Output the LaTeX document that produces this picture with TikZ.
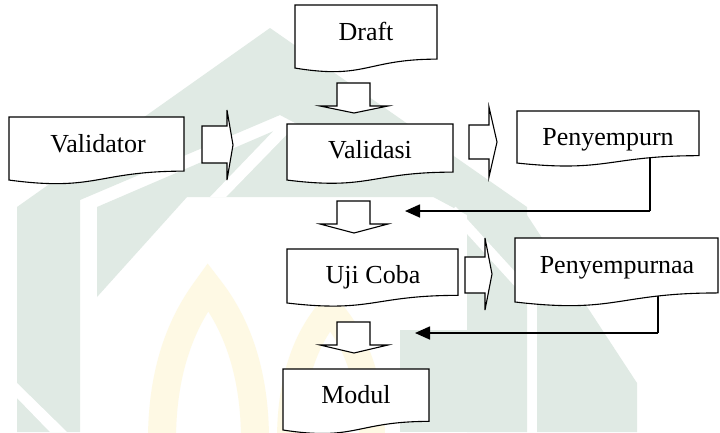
\documentclass[tikz,border=0pt]{standalone}
\usepackage{fontspec}
\setmainfont{Liberation Serif}
\usetikzlibrary{calc,arrows.meta}
\definecolor{wmgreen}{RGB}{224,234,228}
\definecolor{wmyellow}{RGB}{254,249,228}
\tikzset{
  frame/.style={rectangle, draw=none, inner sep=0pt, outer sep=0pt},
  docline/.style={draw=black, line width=1.1pt, fill=white, line join=miter},
  lbl/.style={font=\fontsize{26}{30}\selectfont, inner sep=0pt, anchor=base},
  blockarrow/.style={draw=black, line width=1.1pt, fill=white, line join=miter},
  fbstem/.style={draw=black, line width=1.2pt},
  fbline/.style={draw=black, line width=1.7pt, -{Triangle[length=15pt,width=13pt]}},
}
\newcommand{\docpath}[1]{%
  \path[docline] (#1.north west) -- (#1.north east)
    -- ($(#1.north east)!0.802!(#1.south east)$)
    .. controls ($(#1.north)!0.802!(#1.south)$) and ($(#1.north)!1.108!(#1.south)$)
    .. ($(#1.north west)!0.934!(#1.south west)$) -- cycle;}
\newcommand{\blockdown}[3]{%
  \path[blockarrow] (337,#1) -- (370,#1) -- (370,#2) -- (388,#2) -- (354,#3)
    -- (320,#2) -- (337,#2) -- cycle;}
\newcommand{\blockright}[7]{%
  \path[blockarrow] (#1,#4) -- (#2,#4) -- (#2,#6) -- (#3,{(#6+#7)/2})
    -- (#2,#7) -- (#2,#5) -- (#1,#5) -- cycle;}
\begin{document}
\begin{tikzpicture}[x=1pt,y=-1pt]
\useasboundingbox (0,0) rectangle (720,432);
\fill[white] (0,0) rectangle (720,432);
% --- watermark (faint logo in the background)
\fill[wmgreen] (17,432) -- (17,207) -- (270,28) -- (527,207) -- (527,432)
  -- (467,432) -- (467,215) -- (280,115) -- (80,200) -- (80,432) -- cycle;
\fill[wmgreen] (97,297) -- (97,207) -- (283,127) -- (457,197) -- (187,197) -- cycle;
\fill[white] (210,197) -- (226,197) -- (297,124) -- (285,119) -- cycle;
\fill[wmgreen] (527,215) -- (637,383) -- (637,432) -- (537,432) -- (537,300) -- (527,290) -- cycle;
\fill[wmgreen] (400,330) -- (467,330) -- (467,432) -- (400,432) -- cycle;
\draw[white, line width=10pt] (452,210) -- (534,300);
\fill[white] (17,383) -- (17,398) -- (50,432) -- (67,432) -- cycle;
\draw[wmyellow, line width=28pt] (162,440) .. controls (162,350) and (195,305) .. (208,287)
  .. controls (222,305) and (255,350) .. (255,440);
\draw[wmyellow, line width=26pt] (290,440) .. controls (290,360) and (318,325) .. (330,310)
  .. controls (342,325) and (372,360) .. (372,440);
% --- feedback connectors (drawn first, boxes cover their start)
\node[frame, minimum width=182pt, minimum height=55.7pt, anchor=north west] (pen1) at (517,111) {};
\node[frame, minimum width=203pt, minimum height=68.5pt, anchor=north west] (pen2) at (515,238) {};
\coordinate (fb1a) at ($(pen1.north west)+(133,45)$);
\coordinate (fb1b) at (405,211);
\coordinate (fb2a) at ($(pen2.north west)+(143,55)$);
\coordinate (fb2b) at (415,333);
\draw[fbstem] (fb1a) -- (fb1a |- fb1b);
\draw[fbline] (fb1a |- fb1b) -- (fb1b);
\draw[fbstem] (fb2a) -- (fb2a |- fb2b);
\draw[fbline] (fb2a |- fb2b) -- (fb2b);
% --- document boxes
\node[frame, minimum width=175pt, minimum height=67.5pt, anchor=north west] (validator) at (9,117) {};
\node[frame, minimum width=142pt, minimum height=67.5pt, anchor=north west] (draft) at (295,5) {};
\node[frame, minimum width=166pt, minimum height=60pt, anchor=north west] (validasi) at (287,124) {};
\node[frame, minimum width=171pt, minimum height=57.8pt, anchor=north west] (uji) at (287,249) {};
\node[frame, minimum width=146pt, minimum height=65.3pt, anchor=north west] (modul) at (283,369) {};
\docpath{validator}
\docpath{draft}
\docpath{validasi}
\docpath{pen1}
\docpath{uji}
\docpath{pen2}
\docpath{modul}
% --- block arrows
\blockdown{83}{106}{113}
\blockdown{201}{224}{233}
\blockdown{322}{345}{353}
\blockright{202}{227}{233}{126}{163}{110}{180}
\blockright{469}{489}{497}{125}{159}{107}{177}
\blockright{465}{485}{492}{257}{293}{238}{310}
% --- labels
\node[lbl] (tdraft) at (366,40) {Draft};
\node[lbl] (tvalidator) at (98,152) {Validator};
\node[lbl] (tvalidasi) at (370,158) {Validasi};
\node[lbl] (tpen1) at (608,145) {Penyempurn};
\node[lbl] (tuji) at (373,283) {Uji Coba};
\node[lbl] (tpen2) at (617,273) {Penyempurnaa};
\node[lbl] (tmodul) at (356,403) {Modul};
\end{tikzpicture}
\end{document}
